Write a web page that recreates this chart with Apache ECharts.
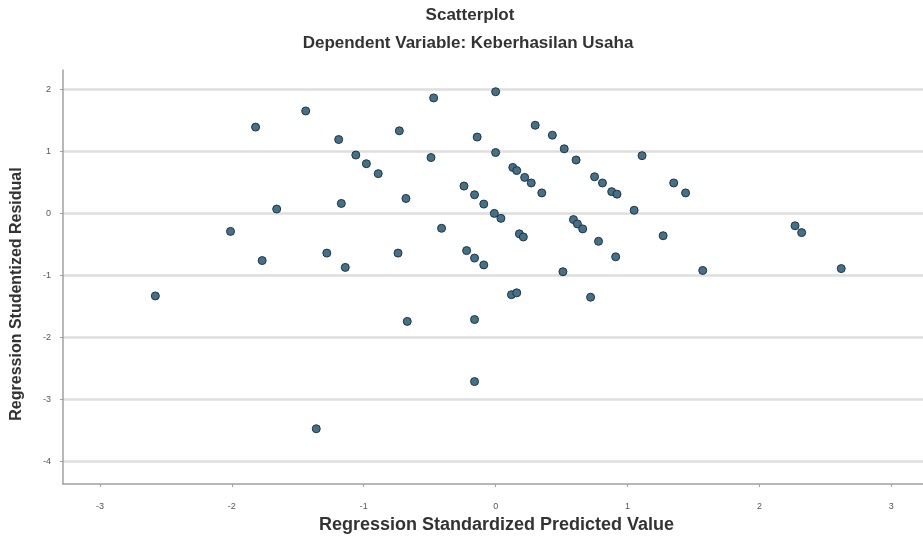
<!DOCTYPE html>
<html>
<head>
<meta charset="utf-8">
<script src="https://cdn.jsdelivr.net/npm/echarts@6/dist/echarts.min.js"></script>
<style>html,body{margin:0;padding:0;background:#fff}#c{width:923px;height:540px}</style>
</head>
<body>
<div id="c"></div>
<script>
const titleText = "Scatterplot";
const subtitleText = "Dependent Variable: Keberhasilan Usaha";
const xName = "Regression Standardized Predicted Value";
const yName = "Regression Studentized Residual";

const predicted = [
 -2.58,-2.01,-1.82,-1.77,-1.66,-1.44,-1.36,-1.28,-1.19,-1.17,
 -1.14,-1.06,-0.98,-0.89,-0.74,-0.73,-0.68,-0.67,-0.49,-0.47,
 -0.41,-0.24,-0.22,-0.16,-0.16,-0.16,-0.16,-0.14,-0.09,-0.09,
 -0.01,0.00,0.00,0.04,0.12,0.13,0.16,0.16,0.18,0.21,
 0.22,0.27,0.30,0.35,0.43,0.51,0.52,0.59,0.61,0.62,
 0.66,0.72,0.75,0.78,0.81,0.88,0.92,0.91,1.05,1.11,
 1.27,1.35,1.44,1.57,2.27,2.32,2.62
];
const residual = [
 -1.33,-0.29,1.39,-0.76,0.07,1.65,-3.47,-0.64,1.19,0.16,
 -0.87,0.94,0.80,0.64,-0.64,1.33,0.24,-1.74,0.90,1.86,
 -0.24,0.44,-0.60,0.30,-0.72,-1.71,-2.71,1.23,0.15,-0.83,
 0.00,1.96,0.98,-0.08,-1.31,0.74,0.69,-1.28,-0.33,-0.38,
 0.58,0.49,1.42,0.33,1.26,-0.94,1.04,-0.10,0.86,-0.17,
 -0.25,-1.35,0.59,-0.45,0.49,0.35,0.31,-0.70,0.05,0.93,
 -0.36,0.49,0.33,-0.92,-0.20,-0.31,-0.89
];
const xRange = [-3.28, 3.24];
const yRange = [-4.36, 2.31];

const points = predicted.map((x, i) => [x, residual[i]]);
const font = "'Liberation Sans', Arial, sans-serif";

const chart = echarts.init(document.getElementById('c'));
chart.setOption({
  animation: false,
  backgroundColor: '#ffffff',
  title: [
    { text: titleText, left: 465, top: 2, textAlign: 'center',
      textStyle: { fontFamily: font, fontSize: 17, fontWeight: 'bold', color: '#333' } },
    { text: subtitleText, left: 463, top: 30, textAlign: 'center',
      textStyle: { fontFamily: font, fontSize: 17, fontWeight: 'bold', color: '#333' } }
  ],
  grid: { left: 63, right: 0, top: 70, bottom: 56, containLabel: false, outerBoundsMode: 'none' },
  xAxis: {
    type: 'value', min: xRange[0], max: xRange[1],
    name: xName, nameLocation: 'middle', nameGap: 30,
    nameTextStyle: { fontFamily: font, fontSize: 18, fontWeight: 'bold', color: '#333', padding: [0, 0, 0, 7] },
    axisLine: { show: true, onZero: false, lineStyle: { color: '#a0a0a0', width: 1.5 } },
    axisTick: { show: true, length: 3, lineStyle: { color: '#a0a0a0' } },
    axisLabel: { fontFamily: font, fontSize: 9, color: '#555', margin: 18, showMinLabel: false, showMaxLabel: false },
    splitLine: { show: false }
  },
  yAxis: {
    type: 'value', min: yRange[0], max: yRange[1],
    name: yName, nameLocation: 'middle', nameGap: 38,
    nameTextStyle: { fontFamily: font, fontSize: 16, fontWeight: 'bold', color: '#333', padding: [0, 34, 0, 0] },
    axisLine: { show: true, onZero: false, lineStyle: { color: '#a0a0a0', width: 1.5 } },
    axisTick: { show: true, length: 3, lineStyle: { color: '#a0a0a0' } },
    axisLabel: { fontFamily: font, fontSize: 9, color: '#555', margin: 12, showMinLabel: false, showMaxLabel: false },
    splitLine: { show: true, showMinLine: false, showMaxLine: false, lineStyle: { color: '#dedede', width: 2.5 } }
  },
  series: [{
    type: 'scatter',
    data: points,
    symbol: 'circle',
    symbolSize: 8,
    itemStyle: { color: '#43718a', borderColor: '#23343f', borderWidth: 1, opacity: 1 }
  }]
});
</script>
</body>
</html>
